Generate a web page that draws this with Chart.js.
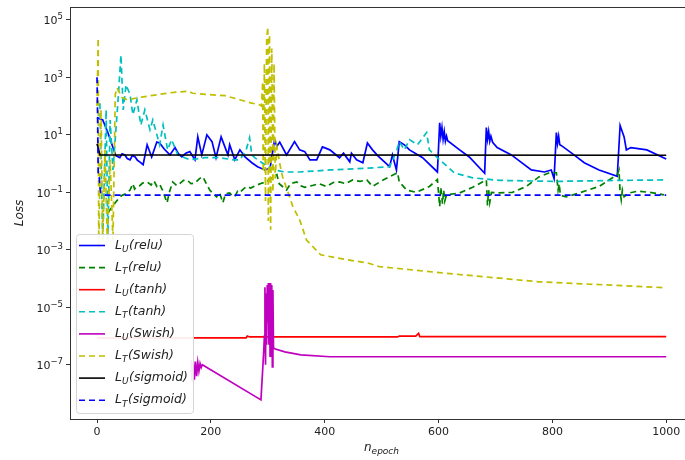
<!DOCTYPE html>
<html>
<head>
<meta charset="utf-8">
<script src="https://cdn.jsdelivr.net/npm/chart.js@4.4.1/dist/chart.umd.min.js"></script>
<style>
  html, body { margin: 0; padding: 0; background: #fff; overflow: hidden; }
  #wrap { width: 685px; height: 460px; }
</style>
</head>
<body>
<div id="wrap"><canvas id="lossChart" width="685" height="460"></canvas></div>
<script>
// values (log y axis)
const reluUEpoch = [0, 2, 10, 19, 28, 33, 40, 44, 49, 53, 58, 62, 67, 71, 75, 81, 88, 96, 105, 110, 118, 128, 137, 143, 149, 156, 163, 172, 177, 184, 193, 202, 209, 218, 230, 233, 242, 251, 260, 272, 282, 295, 304, 312, 316, 321, 333, 347, 356, 365, 374, 386, 396, 409, 426, 433, 444, 447, 456, 467, 475, 484, 493, 514, 519, 526, 531, 540, 549, 572, 598, 602, 604, 606, 608, 610, 612, 614, 616, 637, 654, 681, 684, 686, 688, 690, 692, 695, 703, 728, 763, 786, 798, 803, 807, 809, 811, 813, 816, 838, 856, 882, 914, 919, 926, 930, 938, 966, 1000];
const reluULoss = [40, 38, 33, 12, 3.6, 1.9, 1.6, 2.2, 2.0, 1.5, 1.35, 1.9, 1.7, 1.3, 1.15, 0.91, 4.5, 1.7, 5.6, 5.2, 3.2, 2.0, 3.6, 2.2, 1.7, 2.3, 2.6, 1.35, 8.5, 2.0, 10, 5.8, 1.6, 8.5, 2.0, 4.5, 1.35, 3.0, 1.7, 1.07, 0.78, 0.6, 0.7, 6.8, 4.0, 5.6, 2.0, 5.8, 3.0, 2.6, 1.35, 1.35, 3.8, 3.0, 1.6, 2.3, 1.15, 2.3, 1.35, 1.07, 5.2, 3.0, 1.9, 0.78, 2.0, 0.6, 5.8, 4.5, 3.0, 1.6, 0.51, 26, 9, 18, 7, 13, 6, 9, 6.2, 3.0, 1.7, 0.46, 18, 7, 13, 6, 9, 5.5, 3.6, 2.0, 0.6, 0.51, 0.6, 0.3, 12, 5, 9, 4.5, 4.2, 2.0, 1.07, 0.6, 0.36, 21, 8.5, 3.0, 3.6, 3.0, 1.45];

const reluTEpoch = [20, 23, 32, 40, 45, 51, 58, 63, 66, 70, 75, 80, 88, 95, 100, 105, 110, 115, 123, 127, 133, 140, 145, 152, 158, 165, 172, 180, 186, 192, 198, 204, 210, 215, 221, 226, 233, 238, 242, 247, 251, 257, 263, 270, 281, 290, 298, 305, 316, 320, 333, 340, 351, 358, 365, 377, 390, 403, 415, 426, 437, 449, 462, 474, 484, 500, 514, 528, 531, 544, 561, 584, 598, 602, 604, 607, 609, 611, 614, 637, 660, 677, 684, 686, 688, 690, 693, 702, 730, 754, 777, 795, 807, 810, 812, 814, 824, 847, 882, 914, 917, 919, 921, 923, 926, 935, 950, 970, 985, 996];
const reluTLoss = [0.02, 0.025, 0.043, 0.069, 0.08, 0.09, 0.12, 0.2, 0.13, 0.16, 0.17, 0.21, 0.23, 0.18, 0.25, 0.16, 0.19, 0.12, 0.043, 0.1, 0.23, 0.17, 0.2, 0.26, 0.27, 0.2, 0.21, 0.3, 0.35, 0.2, 0.12, 0.09, 0.069, 0.1, 0.043, 0.09, 0.095, 0.075, 0.07, 0.11, 0.1, 0.13, 0.16, 0.14, 0.18, 0.21, 0.23, 0.3, 0.41, 0.2, 0.12, 0.2, 0.23, 0.17, 0.15, 0.17, 0.2, 0.16, 0.22, 0.23, 0.2, 0.27, 0.24, 0.27, 0.16, 0.25, 0.35, 0.48, 0.23, 0.12, 0.1, 0.16, 0.28, 0.032, 0.15, 0.04, 0.12, 0.05, 0.081, 0.095, 0.15, 0.23, 0.27, 0.035, 0.12, 0.045, 0.1, 0.095, 0.1, 0.16, 0.35, 0.48, 0.48, 0.12, 0.2, 0.08, 0.069, 0.095, 0.16, 0.41, 0.6, 0.1, 0.055, 0.12, 0.07, 0.095, 0.11, 0.1, 0.09, 0.081];

const tanhUEpoch = [0, 262, 264, 268, 528, 531, 560, 565, 567, 1000];
const tanhULoss = [8.7e-7, 8.7e-7, 1.0e-6, 9.3e-7, 9.3e-7, 1.0e-6, 1.0e-6, 1.25e-6, 9.5e-7, 9.5e-7];

const tanhTEpoch = [5, 10, 16, 19, 23, 28, 37, 42, 46, 51, 58, 63, 70, 77, 84, 93, 98, 110, 116, 124, 131, 142, 163, 189, 216, 240, 251, 262, 268, 272, 277, 295, 312, 330, 356, 409, 470, 514, 526, 531, 540, 549, 563, 579, 584, 602, 628, 660, 707, 807, 917, 1000];
const tanhTLoss = [126, 0.002, 74, 0.002, 33, 0.6, 166, 6000, 74, 550, 250, 50, 166, 22, 74, 15, 33, 4.5, 22, 3.0, 6.8, 2.0, 1.35, 1.6, 1.6, 1.35, 1.35, 3, 7.9, 2, 1.6, 0.91, 0.6, 0.51, 0.51, 0.6, 0.68, 0.78, 2.6, 5.8, 3.0, 6.8, 4.5, 12, 3.0, 1.35, 0.47, 0.32, 0.26, 0.24, 0.26, 0.27];

const swishUEpoch = [165, 167, 169, 171, 173, 175, 177, 179, 181, 183, 185, 288, 293, 294, 295, 296, 297, 298, 299, 300, 301, 302, 303, 304, 305, 306, 307, 308, 309, 310, 312, 330, 358, 409, 1000];
const swishULoss = [1.5e-7, 2.6e-8, 1.4e-7, 3e-8, 1.3e-7, 4e-8, 1.2e-7, 6e-8, 1.1e-7, 8e-8, 1e-7, 6e-9, 3.3e-7, 1e-6, 5e-5, 1e-7, 3e-5, 5e-7, 6e-5, 3e-6, 7e-5, 5e-7, 5e-5, 2e-7, 7e-5, 1e-6, 6e-5, 8.5e-8, 4e-5, 4e-7, 3.6e-7, 2.8e-7, 2.2e-7, 1.9e-7, 1.9e-7];

const swishTEpoch = [0, 2, 3, 7, 10, 14, 18, 23, 28, 32, 35, 44, 53, 81, 128, 160, 168, 203, 225, 251, 270, 286, 289, 291, 292, 294, 296, 298, 300, 301, 303, 305, 307, 309, 311, 313, 316, 322, 326, 344, 356, 368, 379, 393, 440, 475, 496, 602, 777, 1000];
const swishTLoss = [100, 23000, 0.001, 74, 0.002, 3.0, 0.002, 1.35, 0.002, 250, 430, 200, 166, 210, 290, 330, 280, 245, 230, 166, 130, 110, 100, 700, 0.5, 3000, 0.05, 20000, 57000, 0.01, 30000, 0.005, 10000, 0.1, 3000, 0.3, 3.8, 0.8, 0.35, 0.032, 0.011, 0.0022, 0.0013, 0.00067, 0.00045, 0.00035, 0.00026, 0.00016, 0.000077, 0.000048];

const sigmoidUEpoch = [0, 3, 5, 1000];
const sigmoidULoss = [4.9, 3.0, 2.0, 1.95];

const sigmoidTEpoch = [0, 1, 2, 4, 6, 10, 15, 1000];
const sigmoidTLoss = [1000, 40, 0.5, 0.3, 0.1, 0.09, 0.08, 0.08];

const xTicks = [0, 200, 400, 600, 800, 1000];
const yTickVals = [1e5, 1e3, 1e1, 1e-1, 1e-3, 1e-5, 1e-7];
const yTickExps = ['5', '3', '1', '\u22121', '\u22123', '\u22125', '\u22127'];

const series = [
  { sub: 'U', act: 'relu',    color: '#0000ff', dash: false, ep: reluUEpoch,    loss: reluULoss },
  { sub: 'T', act: 'relu',    color: '#008000', dash: true,  ep: reluTEpoch,    loss: reluTLoss },
  { sub: 'U', act: 'tanh',    color: '#ff0000', dash: false, ep: tanhUEpoch,    loss: tanhULoss },
  { sub: 'T', act: 'tanh',    color: '#00bfbf', dash: true,  ep: tanhTEpoch,    loss: tanhTLoss },
  { sub: 'U', act: 'Swish',   color: '#bf00bf', dash: false, ep: swishUEpoch,   loss: swishULoss },
  { sub: 'T', act: 'Swish',   color: '#bfbf00', dash: true,  ep: swishTEpoch,   loss: swishTLoss },
  { sub: 'U', act: 'sigmoid', color: '#000000', dash: false, ep: sigmoidUEpoch, loss: sigmoidULoss },
  { sub: 'T', act: 'sigmoid', color: '#0000ff', dash: true,  ep: sigmoidTEpoch, loss: sigmoidTLoss }
];

const DASH = [6, 4];
const FONT = '"DejaVu Sans", sans-serif';

// frame, y tick labels with exponents, axis titles and the legend
const decor = {
  id: 'decor',
  afterDatasetsDraw(chart) {
    const { ctx, chartArea: a } = chart;
    ctx.save();
    ctx.strokeStyle = '#333';
    ctx.lineWidth = 1;
    ctx.strokeRect(a.left + 0.5, a.top + 0.5, a.right - a.left + 2, a.bottom - a.top);
    ctx.restore();
  },
  afterDraw(chart) {
    const { ctx, chartArea: a } = chart;
    const yScale = chart.scales.y;
    ctx.save();
    ctx.fillStyle = '#222';

    // y tick labels: 10 with a raised exponent
    ctx.textBaseline = 'alphabetic';
    ctx.textAlign = 'left';
    yTickVals.forEach((v, i) => {
      const py = yScale.getPixelForValue(v);
      ctx.font = '8.5px ' + FONT;
      const ew = ctx.measureText(yTickExps[i]).width;
      ctx.font = '11px ' + FONT;
      const bw = ctx.measureText('10').width;
      const right = a.left - 7;
      ctx.fillText('10', right - ew - bw, py + 4.5);
      ctx.font = '8.5px ' + FONT;
      ctx.fillText(yTickExps[i], right - ew, py - 0.5);
    });

    // y title
    ctx.save();
    ctx.translate(20, (a.top + a.bottom) / 2);
    ctx.rotate(-Math.PI / 2);
    ctx.font = 'italic 12px ' + FONT;
    ctx.textAlign = 'center';
    ctx.textBaseline = 'middle';
    ctx.fillText('Loss', 0, 0);
    ctx.restore();

    // x title n_epoch
    ctx.textBaseline = 'alphabetic';
    ctx.textAlign = 'left';
    ctx.font = 'italic 12px ' + FONT;
    let tx = 364;
    ctx.fillText('n', tx, 451);
    tx += ctx.measureText('n').width;
    ctx.font = 'italic 9px ' + FONT;
    ctx.fillText('epoch', tx, 454);

    // legend
    const bx = 76.5, by = 234.5, bw = 117, bh = 179, r = 3;
    ctx.beginPath();
    ctx.moveTo(bx + r, by);
    ctx.arcTo(bx + bw, by, bx + bw, by + bh, r);
    ctx.arcTo(bx + bw, by + bh, bx, by + bh, r);
    ctx.arcTo(bx, by + bh, bx, by, r);
    ctx.arcTo(bx, by, bx + bw, by, r);
    ctx.closePath();
    ctx.fillStyle = 'rgba(255,255,255,0.92)';
    ctx.fill();
    ctx.strokeStyle = '#d4d4d4';
    ctx.lineWidth = 1;
    ctx.stroke();

    series.forEach((s, i) => {
      const y = 245.5 + i * 22.1;
      ctx.beginPath();
      ctx.setLineDash(s.dash ? DASH : []);
      ctx.strokeStyle = s.color;
      ctx.lineWidth = 1.6;
      ctx.moveTo(79, y);
      ctx.lineTo(105, y);
      ctx.stroke();
      ctx.setLineDash([]);

      ctx.fillStyle = '#222';
      ctx.textBaseline = 'middle';
      let x = 115;
      ctx.font = 'italic 12.5px ' + FONT;
      ctx.fillText('L', x, y);
      x += ctx.measureText('L').width;
      ctx.font = 'italic 9px ' + FONT;
      ctx.fillText(s.sub, x, y + 4);
      x += ctx.measureText(s.sub).width + 0.5;
      ctx.font = 'italic 12.5px ' + FONT;
      ctx.fillText('(' + s.act + ')', x, y);
    });
    ctx.restore();
  }
};

const datasets = series.map((s, i) => ({
  label: 'L_' + s.sub + '(' + s.act + ')',
  data: s.ep.map((e, k) => ({ x: e, y: s.loss[k] })),
  borderColor: s.color,
  backgroundColor: s.color,
  borderDash: s.dash ? DASH : [],
  borderWidth: 1.7,
  pointRadius: 0,
  tension: 0,
  fill: false,
  order: series.length - i
}));

const tickFont = { family: FONT, size: 11 };

new Chart(document.getElementById('lossChart'), {
  type: 'line',
  data: { datasets: datasets },
  options: {
    responsive: false,
    animation: false,
    devicePixelRatio: 1,
    layout: { padding: { left: 0, right: 0, top: 7, bottom: 0 } },
    plugins: { legend: { display: false }, tooltip: { enabled: false } },
    scales: {
      x: {
        type: 'linear',
        min: -47.5,
        max: 1033,
        afterFit(s) { s.height = 41; },
        afterBuildTicks(s) { s.ticks = xTicks.map(v => ({ value: v })); },
        ticks: { font: tickFont, color: '#222', padding: 3, maxRotation: 0, callback: v => String(v) },
        grid: { drawOnChartArea: false, tickLength: 4, color: '#333' },
        border: { color: '#333' }
      },
      y: {
        type: 'logarithmic',
        min: 1.3e-9,
        max: 2.8e5,
        afterFit(s) { s.width = 70; },
        afterBuildTicks(s) { s.ticks = yTickVals.map(v => ({ value: v })); },
        ticks: { display: false },
        grid: { drawOnChartArea: false, drawTicks: true, tickLength: 4, color: '#333' },
        border: { color: '#333' }
      }
    }
  },
  plugins: [decor]
});
</script>
</body>
</html>
